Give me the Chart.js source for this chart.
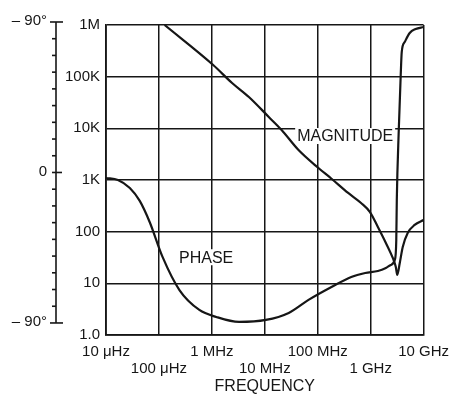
<!DOCTYPE html>
<html>
<head>
<meta charset="utf-8">
<script src="https://cdn.jsdelivr.net/npm/chart.js@4.4.0/dist/chart.umd.min.js"></script>
<style>
html,body{margin:0;padding:0;background:#fff;}
#wrap{width:458px;height:396px;}
</style>
</head>
<body>
<div id="wrap"><canvas id="c" width="458" height="396"></canvas></div>
<script>
// ---- tick values and labels ----
const freqTicks = [1e4, 1e5, 1e6, 1e7, 1e8, 1e9, 1e10];
const freqTickLabels = ['10 μHz', '100 μHz', '1 MHz', '10 MHz', '100 MHz', '1 GHz', '10 GHz'];
const magTicks = [1, 10, 100, 1e3, 1e4, 1e5, 1e6];
const magTickLabels = ['1.0', '10', '100', '1K', '10K', '100K', '1M'];
const phaseTicks = [-90, -80, -70, -60, -50, -40, -30, -20, -10, 0, 10, 20, 30, 40, 50, 60, 70, 80, 90];
const phaseMajor = [-90, 0, 90];
const phaseMajorLabels = ['– 90°', '0', '– 90°'];

// ---- magnitude series (Hz, ohms) ----
const magFreq = [1.28e5, 1.06e6, 2.41e6, 5.01e6, 1.19e7, 2.08e7, 4.34e7, 1.03e8, 1.80e8, 3.76e8,
                 6.59e8, 9.72e8, 1.37e9, 1.94e9, 2.62e9, 2.99e9, 3.18e9, 3.55e9, 4.04e9, 5.01e9, 6.78e9, 1e10];
const magValues = [1e6, 1.68e5, 7.54e4, 4.04e4, 1.66e4, 9.29e3, 3.81e3, 1.71e3, 1.07e3, 561,
                   359, 240, 123, 60.4, 31, 20.7, 14.5, 24.8, 50.5, 94.2, 135, 168];

// ---- phase series (Hz, degrees) ----
const phaseFreq = [1e4, 1.68e4, 2.82e4, 4.34e4, 6.68e4, 1.17e5, 2.44e5, 5.8e5, 1.21e6, 3.27e6, 1.05e7, 2.83e7,
                   6.7e7, 1.82e8, 4.3e8, 7.9e8, 1.37e9, 1.94e9, 2.41e9, 2.86e9, 3.05e9, 3.12e9,
                   3.40e9, 3.70e9, 3.87e9, 4.40e9, 5.47e9, 7.08e9, 1e10];
const phaseValues = [-3.3, -4.5, -9.3, -17.0, -29.6, -50.5, -70.3, -82.2, -86.4, -89.4, -88.2, -84,
                     -76.2, -68.5, -62.5, -60.1, -58.9, -57.1, -55.3, -52.3, -40.4, -16.4,
                     25.4, 58.3, 72.1, 78.0, 83.4, 85.8, 87.0];

// ---- curve annotations (placed in data coordinates) ----
const curveLabels = [
  {text: 'MAGNITUDE', freq: 3.3e8, mag: 7.1e3},
  {text: 'PHASE', freq: 7.8e5, mag: 32}
];

const INK = '#161616';
const FONT = "'Liberation Sans', Arial, Helvetica, sans-serif";

const bgPlugin = {
  id: 'bg',
  beforeDraw(chart) {
    const ctx = chart.ctx;
    ctx.save();
    ctx.fillStyle = '#fff';
    ctx.fillRect(0, 0, chart.width, chart.height);
    ctx.restore();
  }
};

const phaseAxisPlugin = {
  id: 'phaseAxis',
  afterDraw(chart) {
    const ctx = chart.ctx;
    const ys = chart.scales.y2;
    const ax = chart.chartArea.left - 50;
    ctx.save();
    ctx.strokeStyle = INK;
    ctx.lineWidth = 1.6;
    ctx.beginPath();
    ctx.moveTo(ax, ys.getPixelForValue(90));
    ctx.lineTo(ax, ys.getPixelForValue(-90));
    ctx.stroke();
    phaseTicks.forEach(v => {
      const py = ys.getPixelForValue(v);
      ctx.beginPath();
      if (v === 90 || v === -90) { ctx.moveTo(ax - 6, py); ctx.lineTo(ax + 7, py); }
      else if (v === 0) { ctx.moveTo(ax - 4, py); ctx.lineTo(ax + 6, py); }
      else { ctx.moveTo(ax - 4, py); ctx.lineTo(ax, py); }
      ctx.stroke();
    });
    ctx.fillStyle = INK;
    ctx.font = '15px ' + FONT;
    ctx.textAlign = 'right';
    ctx.textBaseline = 'middle';
    phaseMajor.forEach((v, i) => {
      const py = ys.getPixelForValue(v);
      ctx.fillText(phaseMajorLabels[i], ax - 9, py - 1);
    });
    ctx.restore();
  }
};

const curveLabelPlugin = {
  id: 'curveLabels',
  afterDatasetsDraw(chart) {
    const ctx = chart.ctx;
    const xs = chart.scales.x, ys = chart.scales.y;
    ctx.save();
    ctx.font = '16px ' + FONT;
    ctx.textAlign = 'center';
    ctx.textBaseline = 'middle';
    curveLabels.forEach(l => {
      const px = xs.getPixelForValue(l.freq), py = ys.getPixelForValue(l.mag);
      const w = ctx.measureText(l.text).width;
      ctx.fillStyle = '#fff';
      ctx.fillRect(px - w / 2 - 2, py - 8, w + 4, 16);
      ctx.fillStyle = INK;
      ctx.fillText(l.text, px, py + 1);
    });
    ctx.restore();
  }
};

const lineStyle = {
  borderColor: INK,
  borderWidth: 2.2,
  pointRadius: 0,
  fill: false,
  cubicInterpolationMode: 'monotone'
};

new Chart(document.getElementById('c'), {
  type: 'line',
  data: {
    datasets: [
      Object.assign({
        label: 'MAGNITUDE',
        data: magFreq.map((f, i) => ({x: f, y: magValues[i]})),
        yAxisID: 'y'
      }, lineStyle),
      Object.assign({
        label: 'PHASE',
        data: phaseFreq.map((f, i) => ({x: f, y: phaseValues[i]})),
        yAxisID: 'y2'
      }, lineStyle)
    ]
  },
  options: {
    responsive: false,
    animation: false,
    devicePixelRatio: 1,
    layout: {padding: {top: 25, right: 32, left: 0, bottom: 0}},
    plugins: {legend: {display: false}, tooltip: {enabled: false}},
    scales: {
      x: {
        type: 'logarithmic',
        position: 'bottom',
        min: 1e4, max: 1e10,
        afterBuildTicks: s => { s.ticks = freqTicks.map(v => ({value: v})); },
        afterFit: s => { s.height = 61; },
        ticks: {
          autoSkip: false, maxRotation: 0, minRotation: 0,
          color: INK,
          font: {family: FONT, size: 15, lineHeight: 1.1},
          padding: 9,
          callback: (v, i) => i % 2 === 0 ? freqTickLabels[i] : ['', freqTickLabels[i]]
        },
        grid: {color: INK, lineWidth: 1.5, drawTicks: false},
        border: {color: INK, width: 1.8},
        title: {display: true, text: 'FREQUENCY', color: INK,
                font: {family: FONT, size: 16}, padding: {top: 0, bottom: 0}}
      },
      y: {
        type: 'logarithmic',
        position: 'left',
        min: 1, max: 1e6,
        afterBuildTicks: s => { s.ticks = magTicks.map(v => ({value: v})); },
        afterFit: s => { s.width = 106; },
        ticks: {
          color: INK,
          font: {family: FONT, size: 15},
          padding: 6,
          callback: (v, i) => magTickLabels[i]
        },
        grid: {color: INK, lineWidth: 1.5, drawTicks: false},
        border: {color: INK, width: 1.8}
      },
      y2: {
        type: 'linear',
        position: 'left',
        display: false,
        min: -97.2, max: 88.2
      }
    }
  },
  plugins: [bgPlugin, phaseAxisPlugin, curveLabelPlugin]
});
</script>
</body>
</html>
